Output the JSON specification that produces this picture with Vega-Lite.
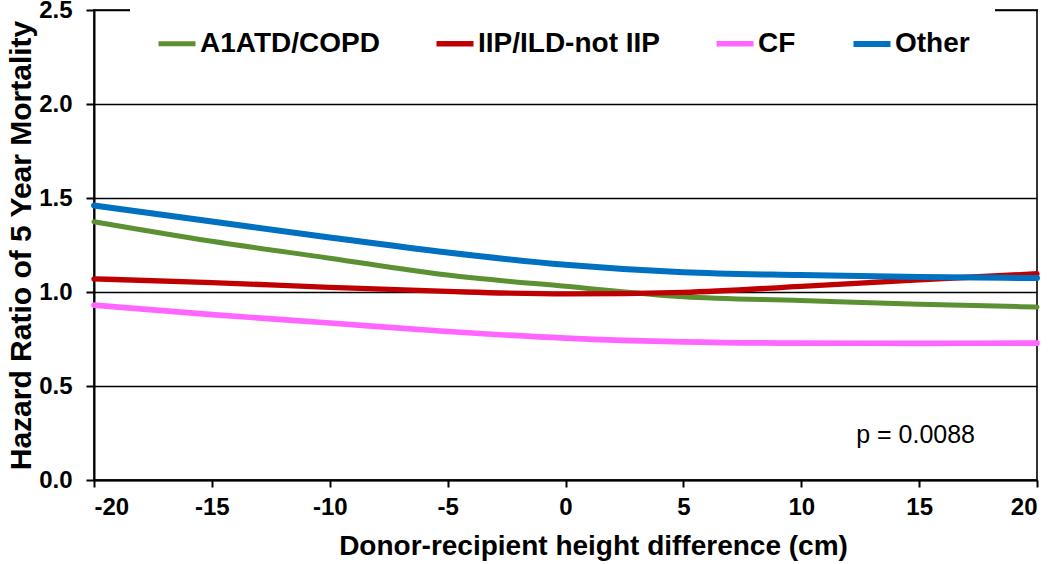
{
  "$schema": "https://vega.github.io/schema/vega-lite/v6.json",
  "width": 943,
  "height": 470,
  "autosize": "none",
  "padding": {"left": 94, "top": 10, "right": 13, "bottom": 84},
  "background": "white",
  "config": {
    "font": "Liberation Sans",
    "view": {"stroke": "#333333", "strokeWidth": 2}
  },
  "datasets": {
    "curves": [
      {"x": -20, "hr": 1.374, "group": "A1ATD/COPD"},
      {"x": -15, "hr": 1.27, "group": "A1ATD/COPD"},
      {"x": -10, "hr": 1.18, "group": "A1ATD/COPD"},
      {"x": -5, "hr": 1.09, "group": "A1ATD/COPD"},
      {"x": 0, "hr": 1.03, "group": "A1ATD/COPD"},
      {"x": 5, "hr": 0.975, "group": "A1ATD/COPD"},
      {"x": 10, "hr": 0.955, "group": "A1ATD/COPD"},
      {"x": 15, "hr": 0.935, "group": "A1ATD/COPD"},
      {"x": 20, "hr": 0.92, "group": "A1ATD/COPD"},
      {"x": -20, "hr": 1.07, "group": "IIP/ILD-not IIP"},
      {"x": -15, "hr": 1.05, "group": "IIP/ILD-not IIP"},
      {"x": -10, "hr": 1.025, "group": "IIP/ILD-not IIP"},
      {"x": -5, "hr": 1.003, "group": "IIP/ILD-not IIP"},
      {"x": 0, "hr": 0.99, "group": "IIP/ILD-not IIP"},
      {"x": 5, "hr": 0.998, "group": "IIP/ILD-not IIP"},
      {"x": 10, "hr": 1.03, "group": "IIP/ILD-not IIP"},
      {"x": 15, "hr": 1.065, "group": "IIP/ILD-not IIP"},
      {"x": 20, "hr": 1.097, "group": "IIP/ILD-not IIP"},
      {"x": -20, "hr": 0.93, "group": "CF"},
      {"x": -15, "hr": 0.88, "group": "CF"},
      {"x": -10, "hr": 0.835, "group": "CF"},
      {"x": -5, "hr": 0.79, "group": "CF"},
      {"x": 0, "hr": 0.755, "group": "CF"},
      {"x": 5, "hr": 0.735, "group": "CF"},
      {"x": 10, "hr": 0.728, "group": "CF"},
      {"x": 15, "hr": 0.727, "group": "CF"},
      {"x": 20, "hr": 0.728, "group": "CF"},
      {"x": -20, "hr": 1.46, "group": "Other"},
      {"x": -15, "hr": 1.375, "group": "Other"},
      {"x": -10, "hr": 1.29, "group": "Other"},
      {"x": -5, "hr": 1.21, "group": "Other"},
      {"x": 0, "hr": 1.145, "group": "Other"},
      {"x": 5, "hr": 1.105, "group": "Other"},
      {"x": 10, "hr": 1.09, "group": "Other"},
      {"x": 15, "hr": 1.08, "group": "Other"},
      {"x": 20, "hr": 1.074, "group": "Other"}
    ],
    "note": [{"x": 14.85, "hr": 0.24, "label": "p = 0.0088"}]
  },
  "layer": [
    {
      "data": {"name": "curves"},
      "mark": {"type": "line", "interpolate": "monotone", "strokeCap": "round"},
      "encoding": {
        "x": {
          "field": "x", "type": "quantitative",
          "scale": {"domain": [-20, 20], "nice": false},
          "axis": {
            "values": [-20, -15, -10, -5, 0, 5, 10, 15, 20],
            "labelExpr": "datum.value < 0 ? '-' + abs(datum.value) : '' + datum.value",
            "title": "Donor-recipient height difference (cm)",
            "grid": false,
            "domainColor": "black", "domainWidth": 2,
            "tickColor": "black", "tickWidth": 2, "tickSize": 7,
            "labelFont": "Liberation Sans", "labelFontSize": 24, "labelFontWeight": "bold", "labelColor": "black",
            "labelPadding": 8,
            "titleFont": "Liberation Sans", "titleFontSize": 28, "titleFontWeight": "bold", "titleColor": "black",
            "titlePadding": 13,
            "titleX": 499
          }
        },
        "y": {
          "field": "hr", "type": "quantitative",
          "scale": {"domain": [0, 2.5], "nice": false},
          "axis": {
            "values": [0, 0.5, 1, 1.5, 2, 2.5],
            "format": ".1f",
            "title": "Hazard Ratio of 5 Year Mortality",
            "grid": true, "gridColor": "black", "gridWidth": 1.5, "gridOpacity": 1,
            "domainColor": "black", "domainWidth": 2,
            "tickColor": "black", "tickWidth": 2, "tickSize": 8,
            "labelFont": "Liberation Sans", "labelFontSize": 24, "labelFontWeight": "bold", "labelColor": "black",
            "labelPadding": 14,
            "titleFont": "Liberation Sans", "titleFontSize": 30, "titleFontWeight": "bold", "titleColor": "black",
            "titlePadding": 2
          }
        },
        "color": {
          "field": "group", "type": "nominal",
          "scale": {
            "domain": ["A1ATD/COPD", "IIP/ILD-not IIP", "CF", "Other"],
            "range": ["#5B9132", "#C00000", "#FF66FF", "#0070C0"]
          },
          "legend": {
            "title": null,
            "orient": "none",
            "legendX": 36,
            "legendY": -13,
            "direction": "horizontal",
            "columns": 4,
            "padding": 25,
            "fillColor": "white",
            "strokeColor": null,
            "symbolType": "stroke",
            "symbolSize": 1370,
            "symbolStrokeWidth": 5,
            "labelFont": "Liberation Sans", "labelFontSize": 28, "labelFontWeight": "bold", "labelColor": "black",
            "labelLimit": 400,
            "labelOffset": 1,
            "columnPadding": 45
          }
        },
        "strokeWidth": {
          "field": "group", "type": "nominal",
          "scale": {"domain": ["A1ATD/COPD", "IIP/ILD-not IIP", "CF", "Other"], "range": [5, 6, 5, 4]},
          "legend": null
        }
      }
    },
    {
      "data": {"name": "note"},
      "mark": {"type": "text", "font": "Liberation Sans", "fontSize": 25, "color": "black", "align": "center", "baseline": "middle"},
      "encoding": {
        "x": {"field": "x", "type": "quantitative"},
        "y": {"field": "hr", "type": "quantitative"},
        "text": {"field": "label"}
      }
    }
  ]
}
